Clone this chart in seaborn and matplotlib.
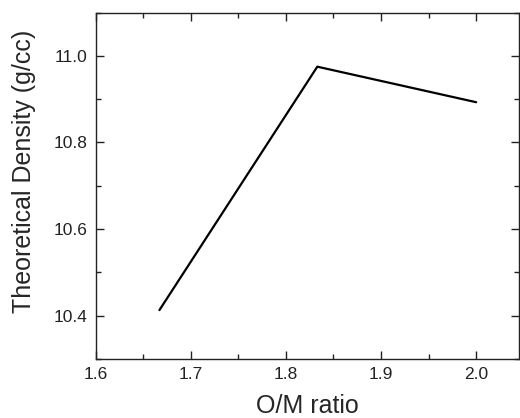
import pandas as pd
import seaborn as sns
import matplotlib.pyplot as plt
from matplotlib.ticker import AutoMinorLocator

sns.set_style("ticks")
plt.rcParams['font.family'] = ['Liberation Sans', 'DejaVu Sans']

# data
om_ratio = [1.667, 1.833, 2.0]
density = [10.413, 10.975, 10.893]

df = pd.DataFrame({'O/M ratio': om_ratio, 'density': density})

fig = plt.figure(figsize=(5.2, 4.18), dpi=100)
ax = fig.add_axes([0.184, 0.141, 0.814, 0.829])

sns.lineplot(data=df, x='O/M ratio', y='density', color='black', linewidth=1.6, ax=ax)

ax.set_xlim(1.6, 2.045)
ax.set_ylim(10.3, 11.1)
ax.set_xticks([1.6, 1.7, 1.8, 1.9, 2.0])
ax.set_yticks([10.4, 10.6, 10.8, 11.0])
ax.xaxis.set_minor_locator(AutoMinorLocator(2))
ax.yaxis.set_minor_locator(AutoMinorLocator(2))

ax.tick_params(which='both', direction='in', top=True, right=True, labelsize=12.5,
               width=1, colors='#222222', pad=6)
ax.tick_params(which='major', length=6)
ax.tick_params(which='minor', length=3.5)
for s in ax.spines.values():
    s.set_linewidth(1)
    s.set_color('#222222')

ax.set_xlabel('O/M ratio', fontsize=18, labelpad=8.5)
ax.set_ylabel('Theoretical Density (g/cc)', fontsize=18)
# label sits a bit above the axes centre in the original
ax.yaxis.set_label_coords(-0.142, 0.543)

fig.savefig('out.png', dpi=100)
